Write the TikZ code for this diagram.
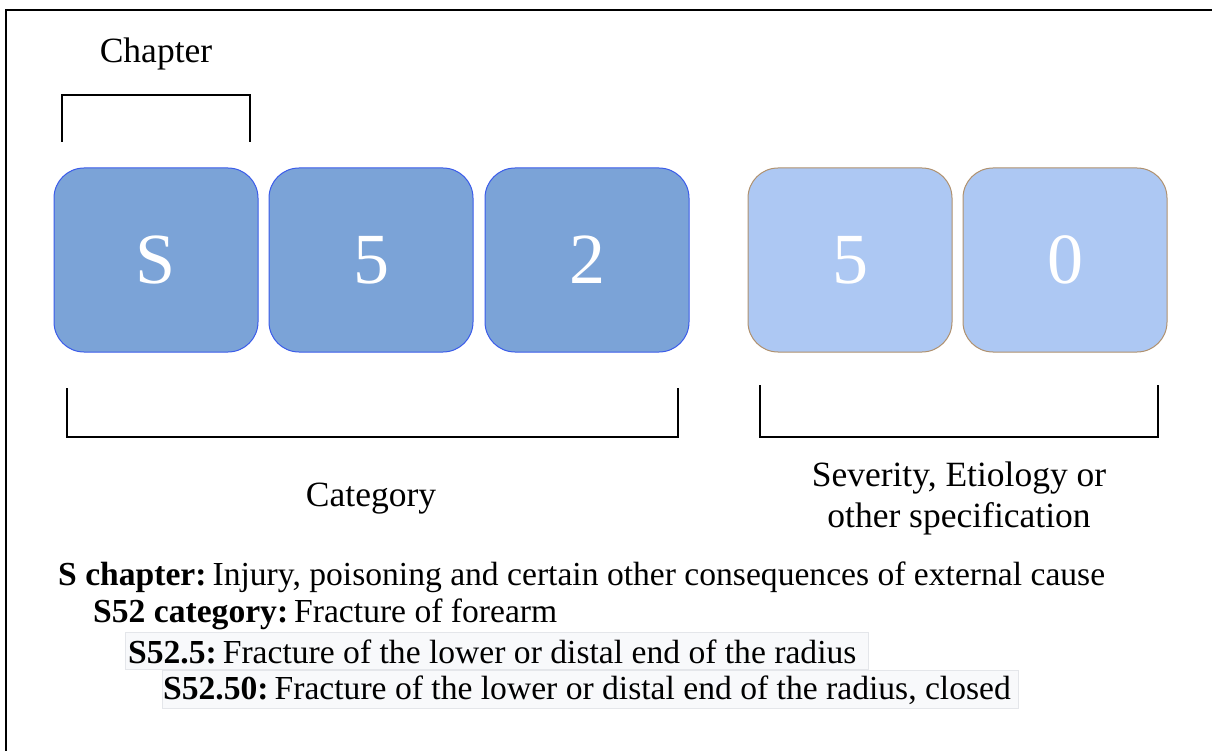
\documentclass[tikz,border=0pt]{standalone}
\usepackage{fontspec}
\setmainfont{Liberation Serif}
\definecolor{darkfill}{HTML}{7BA3D7}
\definecolor{darkedge}{HTML}{3A5BEA}
\definecolor{lightfill}{HTML}{ADC8F3}
\definecolor{lightedge}{HTML}{B0916E}
\definecolor{hlfill}{HTML}{F8F9FB}
\definecolor{hledge}{HTML}{E4E6EA}
\newcommand{\gap}{\hspace{6pt}}
\begin{document}
\begin{tikzpicture}[x=1pt,y=-1pt,
  digit/.style={rounded corners=30pt, minimum width=204pt, minimum height=184pt, inner sep=0pt,
    text=white, font=\fontsize{72}{76}\selectfont, line width=1pt},
  darkdigit/.style={digit, fill=darkfill, draw=darkedge},
  lightdigit/.style={digit, fill=lightfill, draw=lightedge},
  brk/.style={line width=2pt, black},
  lbl/.style={font=\fontsize{35.5}{41}\selectfont, align=center, inner sep=0pt},
  desc/.style={font=\fontsize{33.6}{36}\selectfont, anchor=west, inner sep=0pt},
  hl/.style={fill=hlfill, draw=hledge, line width=0.8pt}
]
\useasboundingbox (0,0) rectangle (1212,751);
\draw[line width=2pt] (6,751) -- (6,10) -- (1212,10);

\node[darkdigit] (b1) at (156,260) {S};
\node[darkdigit] (b2) at (371,260) {5};
\node[darkdigit] (b3) at (587,260) {2};
\node[lightdigit] (b4) at (850,260) {5};
\node[lightdigit] (b5) at (1065,260) {0};

\draw[brk] (62,142) -- (62,95) -- (250,95) -- (250,142);
\node[lbl] (chap) at (156,54) {Chapter};

\draw[brk] (67,388) -- (67,437) -- (678,437) -- (678,388);
\draw[brk] (760,385) -- (760,437) -- (1158,437) -- (1158,385);
\node[lbl] (cat) at (371,499) {Category};
\node[lbl] (sev) at (959,498) {Severity, Etiology or\\other specification};

\fill[hl] (125,632) rectangle (868,669);
\fill[hl] (162,670) rectangle (1018,708);

\node[desc] (l1) at (58,577) {\textbf{S chapter:}\gap Injury, poisoning and certain other consequences of external cause};
\node[desc] (l2) at (93,614) {\textbf{S52 category:}\gap Fracture of forearm};
\node[desc] (l3) at (128,652) {\textbf{S52.5:}\gap Fracture of the lower or distal end of the radius};
\node[desc] (l4) at (163,690) {\textbf{S52.50:}\gap Fracture of the lower or distal end of the radius, closed};
\end{tikzpicture}
\end{document}
